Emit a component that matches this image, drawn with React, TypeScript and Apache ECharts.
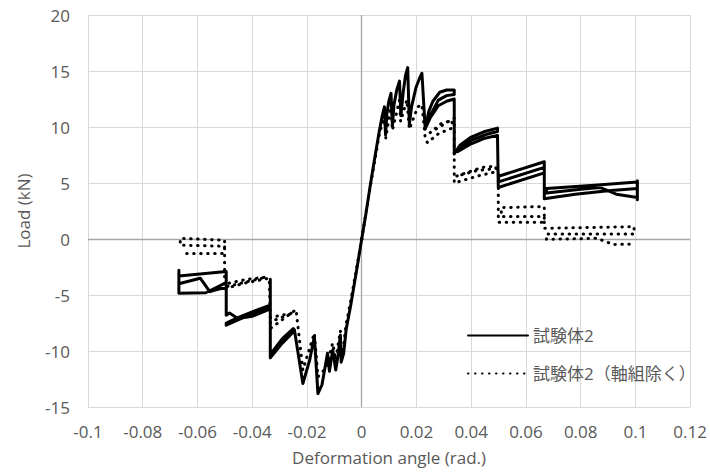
import React, { useEffect, useRef } from "react";
import * as echarts from "echarts";

const seriesNames = ["試験体2", "試験体2（軸組除く）"];
const xTicks = { min: -0.1, max: 0.12, interval: 0.02 };
const yTicks = { min: -15, max: 20, interval: 5 };

// 試験体2 : loading branches on the positive side
const solidPositive: [number, number][] = [
  [0, 0], [0.0015, 2.2], [0.003, 4.6], [0.0048, 7.3], [0.0064, 9.6], [0.0074, 10.9],
  [0.0083, 11.8], [0.0087, 9.3], [0.0092, 11.2], [0.0099, 12.3], [0.0107, 13.0],
  [0.0112, 10.1], [0.0118, 12.0], [0.0128, 13.3], [0.0138, 14.1], [0.0143, 11.0],
  [0.0152, 13.2], [0.016, 14.6], [0.0168, 15.3], [0.0174, 10.2], [0.0182, 11.8],
  [0.0198, 13.5], [0.0212, 14.4], [0.022, 14.8], [0.0232, 9.8], [0.0245, 11.4],
  [0.026, 12.3], [0.0285, 13.1], [0.031, 13.3], [0.0338, 13.3], [0.0338, 12.9],
  [0.031, 12.8], [0.028, 12.4], [0.025, 11.0], [0.0235, 10.0], [0.025, 10.8],
  [0.028, 11.9], [0.031, 12.3], [0.0338, 12.5], [0.0338, 7.6], [0.036, 8.4],
  [0.04, 9.1], [0.045, 9.6], [0.0496, 9.9], [0.0496, 9.6], [0.045, 9.3], [0.04, 8.8],
  [0.0345, 7.9], [0.035, 7.8], [0.04, 8.5], [0.045, 9.0], [0.0496, 9.25], [0.0499, 4.6],
  [0.0667, 5.9], [0.0667, 6.4], [0.05, 5.1], [0.05, 5.6], [0.0667, 6.9], [0.0667, 3.6],
  [0.078, 4.0], [0.09, 4.3], [0.1007, 4.5], [0.1007, 5.1], [0.085, 4.8], [0.0675, 4.5],
  [0.0675, 4.1], [0.08, 4.45], [0.087, 4.6], [0.093, 4.0], [0.1007, 3.7], [0.1007, 5.2],
  [0.1007, 3.5],
];

// 試験体2 : loading branches on the negative side
const solidNegative: [number, number][] = [
  [0, 0], [-0.002, -3.0], [-0.004, -5.9], [-0.0057, -8.1], [-0.0066, -10.2],
  [-0.0075, -11.0], [-0.0078, -8.6], [-0.0087, -10.5], [-0.0095, -11.7], [-0.0106, -9.9],
  [-0.0118, -11.8], [-0.0125, -10.2], [-0.0145, -13.0], [-0.016, -13.8], [-0.0173, -8.7],
  [-0.019, -10.8], [-0.0215, -12.9], [-0.0246, -8.1], [-0.029, -9.1], [-0.0334, -10.5],
  [-0.0334, -10.3], [-0.029, -8.9], [-0.025, -8.0], [-0.025, -8.3], [-0.029, -9.3],
  [-0.0334, -10.6], [-0.0334, -3.6], [-0.0334, -5.9], [-0.04, -6.5], [-0.045, -7.0],
  [-0.0495, -7.5], [-0.0495, -7.7], [-0.045, -7.2], [-0.04, -6.7], [-0.034, -6.1],
  [-0.034, -6.3], [-0.04, -6.9], [-0.0453, -7.1], [-0.0483, -6.6], [-0.0495, -6.8],
  [-0.0495, -2.9], [-0.0668, -3.3], [-0.0668, -4.0], [-0.059, -3.5], [-0.0555, -4.7],
  [-0.0495, -4.3], [-0.0495, -3.9], [-0.057, -4.8], [-0.0668, -4.85], [-0.0668, -2.8],
];

// 試験体2（軸組除く） : positive side
const dottedPositive: [number, number][] = [
  [0, 0], [0.003, 4.5], [0.0064, 9.3], [0.0083, 11.0], [0.0088, 9.0], [0.0107, 12.0],
  [0.0112, 9.7], [0.0138, 12.4], [0.0142, 10.5], [0.0165, 12.4], [0.0174, 9.8],
  [0.0205, 11.8], [0.022, 12.0], [0.0232, 9.0], [0.024, 8.6], [0.028, 9.4], [0.033, 9.9],
  [0.033, 10.6], [0.029, 10.3], [0.025, 9.5], [0.0338, 10.8], [0.0338, 5.0],
  [0.042, 5.6], [0.049, 6.0], [0.049, 6.5], [0.044, 6.4], [0.0345, 5.6], [0.042, 6.1],
  [0.049, 6.3], [0.0499, 6.2], [0.0499, 1.5], [0.0667, 1.5], [0.0667, 2.0], [0.051, 2.0],
  [0.051, 2.8], [0.0667, 2.9], [0.0667, 0.95], [0.0995, 1.1], [0.0995, 0.45],
  [0.0675, 0.45], [0.0675, -0.03], [0.086, 0.06], [0.092, -0.5], [0.0995, -0.45],
];

// 試験体2（軸組除く） : negative side
const dottedNegative: [number, number][] = [
  [0, 0], [-0.002, -2.8], [-0.004, -5.5], [-0.0057, -7.6], [-0.0068, -9.8],
  [-0.0075, -10.3], [-0.0078, -8.2], [-0.0095, -10.8], [-0.0106, -9.3], [-0.013, -11.5],
  [-0.016, -12.3], [-0.0173, -8.4], [-0.0215, -11.7], [-0.024, -6.3], [-0.0334, -8.0],
  [-0.0334, -7.4], [-0.025, -6.6], [-0.0334, -7.0], [-0.0338, -3.5], [-0.042, -3.9],
  [-0.0495, -4.4], [-0.0495, -4.0], [-0.042, -3.6], [-0.0349, -3.4], [-0.0501, -4.3],
  [-0.0501, -0.1], [-0.0663, 0.05], [-0.0663, -0.55], [-0.05, -0.65], [-0.051, -1.3],
  [-0.0663, -1.3],
];

const zeroLines = { x: 0, y: 0 };

const FONT = "'Open Sans', 'Noto Sans CJK JP', sans-serif";
const TEXT = "#595959";

export default function App() {
  const ref = useRef<HTMLDivElement>(null);
  useEffect(() => {
    if (!ref.current) return;
    const chart = echarts.init(ref.current, null, { renderer: "svg" });
    const fmt = (v: number) => String(parseFloat(v.toFixed(3)));
    const solidStyle = { color: "#000", width: 3, type: "solid" as const, cap: "round" as const, join: "round" as const };
    const dotStyle = { color: "#000", width: 3, type: [0.5, 6.5] as any, cap: "round" as const, join: "round" as const };
    const mk = (name: string, data: [number, number][], ls: any, extra: any = {}) => ({
      type: "line",
      name,
      data,
      showSymbol: false,
      symbol: "none",
      lineStyle: ls,
      itemStyle: { color: "#000" },
      z: 3,
      ...extra,
    });
    chart.setOption({
      animation: false,
      textStyle: { fontFamily: FONT },
      grid: { left: 88, right: 19, top: 15, bottom: 69, containLabel: false },
      legend: {
        orient: "vertical",
        left: 462,
        top: 322,
        itemWidth: 60,
        itemHeight: 14,
        itemGap: 21,
        data: seriesNames,
        itemStyle: { color: "transparent", borderColor: "transparent", borderWidth: 0, opacity: 0 },
        textStyle: { fontSize: 17, color: TEXT, fontFamily: FONT },
      },
      xAxis: {
        type: "value",
        min: xTicks.min,
        max: xTicks.max,
        interval: xTicks.interval,
        name: "Deformation angle (rad.)",
        nameLocation: "middle",
        nameGap: 42,
        nameTextStyle: { fontSize: 17, color: TEXT, fontFamily: FONT },
        axisLine: { show: false },
        axisTick: { show: false },
        axisLabel: { fontSize: 17, color: TEXT, margin: 16, formatter: fmt, fontFamily: FONT },
        splitLine: { show: true, lineStyle: { color: "#d9d9d9", width: 1 } },
      },
      yAxis: {
        type: "value",
        min: yTicks.min,
        max: yTicks.max,
        interval: yTicks.interval,
        name: "Load (kN)",
        nameLocation: "middle",
        nameGap: 56,
        nameTextStyle: { fontSize: 17, color: TEXT, fontFamily: FONT },
        axisLine: { show: false },
        axisTick: { show: false },
        axisLabel: { fontSize: 17, color: TEXT, margin: 18, formatter: fmt, fontFamily: FONT },
        splitLine: { show: true, lineStyle: { color: "#d9d9d9", width: 1 } },
      },
      series: [
        mk(seriesNames[0], solidPositive, solidStyle, {
          markLine: {
            silent: true,
            symbol: "none",
            label: { show: false },
            lineStyle: { color: "#a6a6a6", width: 1.3, type: "solid" },
            z: 1,
            data: [{ xAxis: zeroLines.x }, { yAxis: zeroLines.y }],
          },
        }),
        mk(seriesNames[0], solidNegative, solidStyle),
        mk(seriesNames[1], dottedPositive, dotStyle),
        mk(seriesNames[1], dottedNegative, dotStyle),
      ],
    });
    return () => chart.dispose();
  }, []);
  return <div ref={ref} style={{ width: 710, height: 476, position: "absolute", left: 0, top: 0 }} />;
}
